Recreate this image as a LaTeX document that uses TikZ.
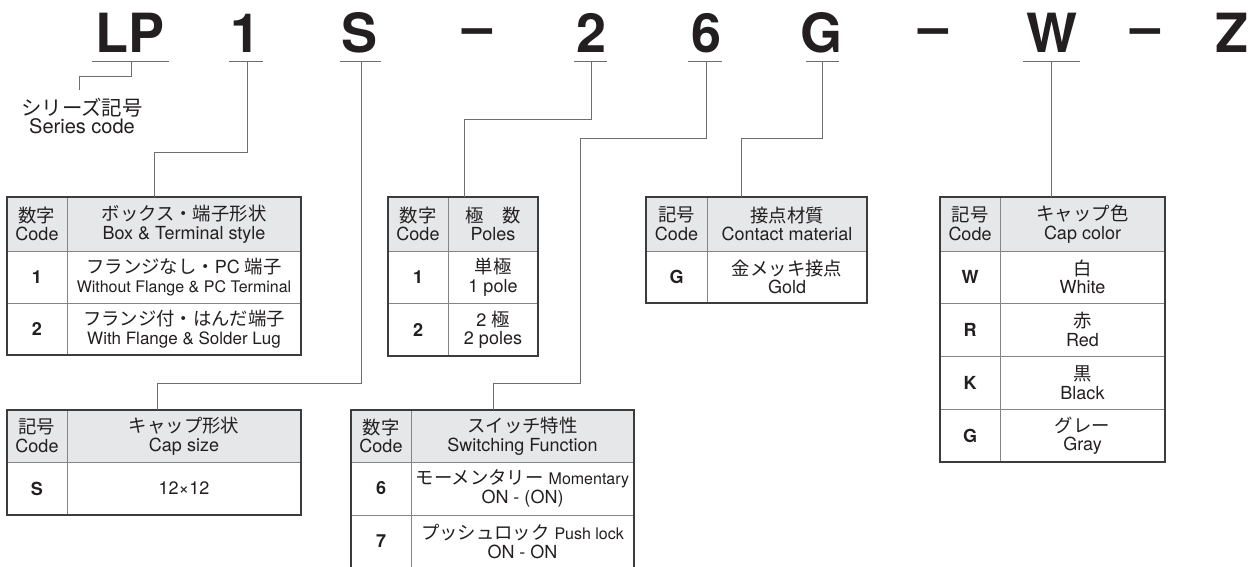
\documentclass[tikz,border=0pt]{standalone}
\usepackage{fontspec}
\setmainfont{TeX Gyre Heros}
\newfontfamily\jp[Scale=1.02]{Noto Sans CJK JP}
\usetikzlibrary{calc}
\definecolor{ink}{HTML}{231F20}
\definecolor{hdrfill}{HTML}{E6E7E8}
\definecolor{cellline}{HTML}{858585}
\definecolor{outline}{HTML}{3C3C3C}
\definecolor{connline}{HTML}{6D6E70}
\newcommand\J[1]{{\jp #1}}
\newcommand\mkcell[7]{%
  \pgfmathsetmacro\mkcw{#5-#3}\pgfmathsetmacro\mkch{#6-#4}%
  \node[#2, minimum width=\mkcw pt, minimum height=\mkch pt] (#1) at ({(#3+#5)/2},{(#4+#6)/2}) {#7};}
\tikzset{
  cell/.style={draw=cellline, line width=0.8pt, inner sep=0pt, outer sep=0pt, align=center, text=ink,
    font=\fontsize{18}{18.5}\selectfont},
  hdr/.style={cell, fill=hdrfill},
  codec/.style={cell, font=\fontsize{18}{19}\selectfont\bfseries},
  outer/.style={draw=outline, line width=1.5pt},
  conn/.style={draw=connline, line width=1pt},
  uline/.style={draw=connline, line width=1pt},
  big/.style={font=\fontsize{54}{54}\selectfont\bfseries, text=ink, inner sep=0pt, anchor=base},
}
\begin{document}
\begin{tikzpicture}[x=1pt,y=-1pt]
\useasboundingbox (0,0) rectangle (1258,566);
\fill[white] (0,0) rectangle (1258,566);

% big code letters
\node[big] (cLP) at (130.5,52) {LP};
\node[big] (c1)  at (246,52) {1};
\node[big] (cS)  at (360,52) {S};
\node[big] (d1)  at (477.5,45) {–};
\node[big] (c2)  at (592,52) {2};
\node[big] (c6)  at (707,52) {6};
\node[big] (cG)  at (821,52) {G};
\node[big] (d2)  at (934,45) {–};
\node[big] (cW)  at (1052,52) {W};
\node[big] (d3)  at (1145.5,45) {–};
\node[big] (cZ)  at (1232,52) {Z};

% underlines
\draw[uline] (92,61) -- (169,61);
\draw[uline] (229,61) -- (263,61);
\draw[uline] (340,61) -- (381,61);
\draw[uline] (574,61) -- (607,61);
\draw[uline] (688,61) -- (722,61);
\draw[uline] (806,61) -- (839,61);
\draw[uline] (1023,61) -- (1080,61);

\coordinate (uLP) at (131,61);
\coordinate (u1) at (247,61);
\coordinate (uS) at (361,61);
\coordinate (u2) at (591,61);
\coordinate (u6) at (706,61);
\coordinate (uG) at (822,61);
\coordinate (uW) at (1051,61);

% series code
\node[inner sep=0pt, align=center, text=ink, font=\fontsize{20}{18.5}\selectfont] (series) at (82,116)
  {\J{シリーズ記号}\\Series code};
\coordinate (jLP) at (79,90);

% Table A: Box & terminal
\mkcell{Ah1}{hdr}{7}{197}{67}{251}{\J{数字}\\Code}
\mkcell{Ah2}{hdr}{67}{197}{301}{251}{\J{ボックス・端子形状}\\Box \& Terminal style}
\mkcell{Aa1}{codec}{7}{251}{67}{303}{1}
\mkcell{Aa2}{cell}{67}{251}{301}{303}{\J{フランジなし・}PC \J{端子}\\{\fontsize{16}{18.5}\selectfont Without Flange \& PC Terminal}}
\mkcell{Ab1}{codec}{7}{303}{67}{355}{2}
\mkcell{Ab2}{cell}{67}{303}{301}{355}{\J{フランジ付・はんだ端子}\\{\fontsize{17}{18.5}\selectfont With Flange \& Solder Lug}}
\draw[outer] (Ah1.north west) rectangle (Ab2.south east);

% Table B: Poles
\mkcell{Bh1}{hdr}{388}{197}{448}{251}{\J{数字}\\Code}
\mkcell{Bh2}{hdr}{448}{197}{538}{251}{\J{極　数}\\Poles}
\mkcell{Ba1}{codec}{388}{251}{448}{303}{1}
\mkcell{Ba2}{cell}{448}{251}{538}{303}{\J{単極}\\1 pole}
\mkcell{Bb1}{codec}{388}{303}{448}{356}{2}
\mkcell{Bb2}{cell}{448}{303}{538}{356}{2 \J{極}\\2 poles}
\draw[outer] (Bh1.north west) rectangle (Bb2.south east);

% Table C: Contact material
\mkcell{Ch1}{hdr}{646}{197}{707}{251}{\J{記号}\\Code}
\mkcell{Ch2}{hdr}{707}{197}{867}{251}{\J{接点材質}\\Contact material}
\mkcell{Ca1}{codec}{646}{251}{707}{303}{G}
\mkcell{Ca2}{cell}{707}{251}{867}{303}{\J{金メッキ接点}\\Gold}
\draw[outer] (Ch1.north west) rectangle (Ca2.south east);

% Table D: Cap color
\mkcell{Dh1}{hdr}{940}{197}{1000}{251}{\J{記号}\\Code}
\mkcell{Dh2}{hdr}{1000}{197}{1165}{251}{\J{キャップ色}\\Cap color}
\mkcell{Da1}{codec}{940}{251}{1000}{303}{W}
\mkcell{Da2}{cell}{1000}{251}{1165}{303}{\J{白}\\White}
\mkcell{Db1}{codec}{940}{303}{1000}{356}{R}
\mkcell{Db2}{cell}{1000}{303}{1165}{356}{\J{赤}\\Red}
\mkcell{Dc1}{codec}{940}{356}{1000}{409}{K}
\mkcell{Dc2}{cell}{1000}{356}{1165}{409}{\J{黒}\\Black}
\mkcell{Dd1}{codec}{940}{409}{1000}{462}{G}
\mkcell{Dd2}{cell}{1000}{409}{1165}{462}{\J{グレー}\\Gray}
\draw[outer] (Dh1.north west) rectangle (Dd2.south east);

% Table E: Cap size
\mkcell{Eh1}{hdr}{7}{410}{67}{462}{\J{記号}\\Code}
\mkcell{Eh2}{hdr}{67}{410}{301}{462}{\J{キャップ形状}\\Cap size}
\mkcell{Ea1}{codec}{7}{462}{67}{515}{S}
\mkcell{Ea2}{cell}{67}{462}{301}{515}{12×12}
\draw[outer] (Eh1.north west) rectangle (Ea2.south east);

% Table F: Switching function
\mkcell{Fh1}{hdr}{351}{410}{411}{462}{\J{数字}\\Code}
\mkcell{Fh2}{hdr}{411}{410}{634}{462}{\J{スイッチ特性}\\Switching Function}
\mkcell{Fa1}{codec}{351}{462}{411}{515}{6}
\mkcell{Fa2}{cell}{411}{462}{634}{515}{\J{モーメンタリー} {\fontsize{16}{18.5}\selectfont Momentary}\\ON - (ON)}
\mkcell{Fb1}{codec}{351}{515}{411}{568}{7}
\mkcell{Fb2}{cell}{411}{515}{634}{568}{\J{プッシュロック} {\fontsize{16}{18.5}\selectfont Push lock}\\ON - ON}
\draw[outer] (Fh1.north west) rectangle (Fb2.south east);

% junction points on tables
\coordinate (j1) at (154,197);
\coordinate (jS) at (157,410);
\coordinate (j2) at (464,197);
\coordinate (j6) at (493,410);
\coordinate (jG) at (741,197);
\coordinate (jW) at (1051,197);

% connectors
\draw[conn] (uLP) -- ++(0,15) -| (jLP);
\draw[conn] (u1) -- ++(0,91) -| (j1);
\draw[conn] (uS) -- ++(0,322) -| (jS);
\draw[conn] (u2) -- ++(0,58) -| (j2);
\draw[conn] (u6) -- ++(0,77) -| ++(-126,245) -| (j6);
\draw[conn] (uG) -- ++(0,77) -| (jG);
\draw[conn] (uW) -- (jW);
\end{tikzpicture}
\end{document}
